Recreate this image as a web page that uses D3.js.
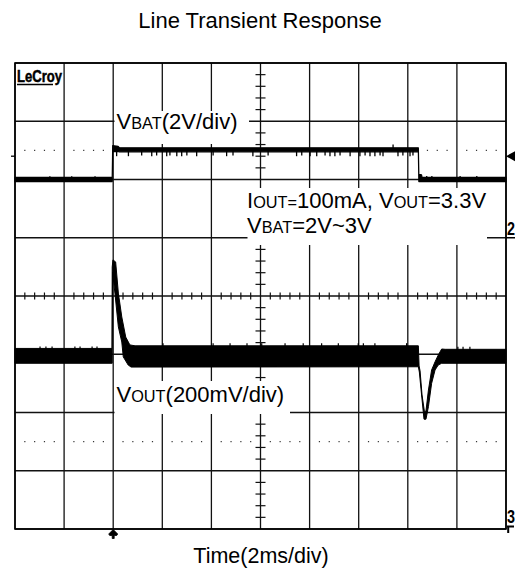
<!DOCTYPE html>
<html>
<head>
<meta charset="utf-8">
<script src="https://cdn.jsdelivr.net/npm/d3@7/dist/d3.min.js"></script>
<style>
  body { margin: 0; background: #fff; }
  svg { display: block; }
  text { font-family: "Liberation Sans", Arial, Helvetica, sans-serif; fill: #000; }
</style>
</head>
<body>
<svg id="scope" width="522" height="573"></svg>
<script>
// Line transient capture: VBAT stepped 2 V -> 3 V -> 2 V, VOUT held at 3.3 V (100 mA load)

// Screen: 10 time divisions of 2 ms, 8 vertical divisions
const timeDomain = [0, 20];          // ms
const timeDivs = d3.range(0, 21, 2); // graticule lines, ms
const vertDivs = d3.range(-4, 5);    // graticule lines, divisions
const subPerDiv = 5;

// VBAT, channel 2: 2 V/div, ground marker one division above centre
const vbatPerDiv = 2;
const vbatGroundDiv = 1;
const vbatTime = [0, 3.96, 3.98, 4.2, 4.25, 16.43, 16.45, 16.56, 16.58, 20];
const vbatHigh = [2.07, 2.07, 3.16, 3.14, 3.09, 3.09, 2.18, 2.16, 2.07, 2.07];
const vbatLow  = [1.93, 1.93, 2.96, 2.96, 2.95, 2.95, 1.93, 1.93, 1.93, 1.93];
// short glitches on the VBAT trace: time (ms) and tip (V)
const vbatGlitchTime = [1.42, 2.31, 3.26, 4.14, 4.62, 5.16, 5.57, 5.77, 6.18, 6.31, 6.59, 6.79, 7.0, 7.4,
  8.07, 8.62, 8.88, 9.69, 10.31, 11.47, 11.68, 12.02, 12.29, 12.63, 12.83, 13.03, 13.24, 13.65,
  14.05, 14.26, 14.46, 14.66, 14.87, 14.99, 15.4, 15.6, 15.8, 16.09, 16.21, 16.77, 16.98, 18.13, 18.81];
const vbatGlitchTip = [2.11, 2.11, 2.11, 2.8, 2.8, 2.82, 2.8, 2.82, 2.8, 2.82, 2.8, 2.8, 2.82, 2.8,
  2.82, 2.8, 2.82, 2.8, 2.82, 2.8, 2.82, 2.8, 2.8, 2.82, 2.8, 2.8, 2.82, 2.8,
  2.8, 2.82, 2.8, 2.8, 2.82, 2.8, 3.2, 2.8, 2.82, 2.8, 2.82, 2.12, 2.12, 2.12, 2.12];
const vbatTrigLevel = 2.8;   // V, trigger level marker

// VOUT, channel 3: 200 mV/div, AC deviation from 3.3 V, zero one division below centre
const voutPerDiv = 200;
const voutZeroDiv = -1;
// upper edge of the VOUT trace (ms, mV)
const voutHighTime = [0, 3.95, 3.96, 3.99, 4.10, 4.21, 4.35, 4.51, 4.68, 4.89, 16.43, 16.46, 16.50,
  16.58, 16.68, 16.74, 16.84, 16.97, 17.11, 17.24, 17.38, 17.52, 20];
const voutHigh = [20, 20, 300, 324, 317, 210, 128, 59, 32, 29, 29, -40, -57,
  -140, -198, -195, -123, -54, -26, -3, 18, 17, 17];
// lower edge of the VOUT trace (ms, mV)
const voutLowTime = [0, 3.95, 3.96, 3.975, 4.07, 4.21, 4.35, 4.41, 4.61, 4.73, 16.43, 16.47, 16.57,
  16.66, 16.74, 16.84, 16.97, 17.11, 17.24, 17.38, 20];
const voutLow = [-31, -31, -31, 282, 210, 94, 42, -9, -37, -44, -43, -61, -147,
  -223, -223, -180, -100, -54, -37, -31, -31];
// ripple spikes above the VOUT band: time (ms) and tip (mV)
const voutSpikeTime = [1.02, 1.26, 1.51, 2.44, 2.65, 3.14, 3.34, 6.03, 8.07, 8.76, 9.45, 10.05, 11.0,
  11.74, 12.49, 13.17, 13.98, 14.19, 14.66, 15.95, 18.04, 18.25, 18.53];
const voutSpikeTip = [27, 27, 27, 27, 27, 27, 27, 38, 38, 38, 38, 38, 38,
  38, 38, 38, 38, 38, 38, 38, 26, 26, 26];

const triggerTime = 4;   // ms

const svg = d3.select('#scope');
const x = d3.scaleLinear().domain(timeDomain).range([15, 506]);
const yDiv = d3.scaleLinear().domain([4, -4]).range([63, 529]);
const yVbat = v => yDiv(vbatGroundDiv + v / vbatPerDiv);
const yVout = mv => yDiv(voutZeroDiv + mv / voutPerDiv);
const msPerDiv = timeDivs[1] - timeDivs[0];
const ink = '#000';

// title and time base
svg.append('text').attr('x', 260).attr('y', 28).attr('text-anchor', 'middle')
  .attr('font-size', 22).text('Line Transient Response');
svg.append('text').attr('x', 261).attr('y', 563).attr('text-anchor', 'middle')
  .attr('font-size', 21.5).text('Time(2ms/div)');

const grid = svg.append('g').attr('stroke', '#111').attr('stroke-width', 1.3);
grid.selectAll('line.v').data(timeDivs).join('line').attr('class', 'v')
  .attr('x1', d => x(d)).attr('x2', d => x(d)).attr('y1', yDiv(4)).attr('y2', yDiv(-4));
grid.selectAll('line.h').data(vertDivs).join('line').attr('class', 'h')
  .attr('x1', x(0)).attr('x2', x(20)).attr('y1', d => yDiv(d)).attr('y2', d => yDiv(d));

// dotted reference rows at +2.5 and -2.5 div
const dotRows = [2.5, -2.5];
const dotXs = d3.range(0, 10).flatMap(k => d3.range(1, subPerDiv).map(j => (k + j / subPerDiv) * msPerDiv));
dotRows.forEach(r => {
  svg.append('g').selectAll('rect').data(dotXs).join('rect')
    .attr('x', d => x(d) - 0.6).attr('y', yDiv(r) - 0.6).attr('width', 1.2).attr('height', 1.2)
    .attr('fill', '#333');
});

// minor ticks on the centre axes
const tickY = d3.range(-4, 4).flatMap(k => d3.range(1, subPerDiv).map(j => k + j / subPerDiv));
const tickX = dotXs;
const axes = svg.append('g').attr('stroke', '#111').attr('stroke-width', 1.2);
axes.selectAll('line.ty').data(tickY).join('line').attr('class', 'ty')
  .attr('x1', x(10) - 5).attr('x2', x(10) + 5).attr('y1', d => yDiv(d)).attr('y2', d => yDiv(d));
axes.selectAll('line.tx').data(tickX).join('line').attr('class', 'tx')
  .attr('x1', d => x(d)).attr('x2', d => x(d)).attr('y1', yDiv(0) - 3.5).attr('y2', yDiv(0) + 3.5);

// frame
svg.append('rect').attr('x', x(0)).attr('y', yDiv(4)).attr('width', x(20) - x(0))
  .attr('height', yDiv(-4) - yDiv(4)).attr('fill', 'none').attr('stroke', '#000').attr('stroke-width', 1.6);

// LeCroy badge
svg.append('text').attr('x', 17).attr('y', 82).attr('font-size', 17).attr('font-weight', 'bold')
  .attr('stroke', '#000').attr('stroke-width', 0.5)
  .attr('textLength', 45).attr('lengthAdjust', 'spacingAndGlyphs').text('LeCroy');
svg.append('line').attr('x1', 17).attr('x2', 53).attr('y1', 84.5).attr('y2', 84.5)
  .attr('stroke', '#000').attr('stroke-width', 1.5);

// annotation labels sit on white panels that clear the graticule
const big = 22, small = 16.3;
function label(px, py, parts) {
  const t = svg.append('text').attr('x', px).attr('y', py);
  parts.forEach(([s, sm]) => t.append('tspan').attr('font-size', sm ? small : big).text(s));
  return t;
}
const panels = [
  [114.5, 111, 249, 144],
  [114.5, 381, 290, 414],
  [247.5, 188, 487, 245]
];
svg.append('g').selectAll('rect').data(panels).join('rect')
  .attr('x', d => d[0]).attr('y', d => d[1]).attr('width', d => d[2] - d[0]).attr('height', d => d[3] - d[1])
  .attr('fill', '#fff');
label(116.5, 128.5, [['V'], ['BAT', 1], ['(2V/div)']]);
label(116.5, 401.7, [['V'], ['OUT', 1], ['(200mV/div)']]);
label(247, 208.3, [['I'], ['OUT=', 1], ['100mA, V'], ['OUT', 1], ['=3.3V']]);
label(247, 233.3, [['V'], ['BAT', 1], ['=2V~3V']]);

// VBAT trace envelope
const env = (time, hi, lo, fy) => {
  const up = time.map((t, i) => [x(t), fy(hi[i])]);
  const dn = time.map((t, i) => [x(t), fy(lo[i])]).reverse();
  return d3.line()(up.concat(dn)) + 'Z';
};
svg.append('path').attr('d', env(vbatTime, vbatHigh, vbatLow, yVbat))
  .attr('fill', ink).attr('stroke', ink).attr('stroke-width', 1.2).attr('stroke-linejoin', 'round');
const vbatMid = d3.scaleLinear().domain(vbatTime).range(vbatTime.map((t, i) => (vbatHigh[i] + vbatLow[i]) / 2));
svg.append('g').attr('stroke', ink).attr('stroke-width', 1.3).selectAll('line')
  .data(vbatGlitchTime).join('line')
  .attr('x1', d => x(d)).attr('x2', d => x(d))
  .attr('y1', d => yVbat(vbatMid(d))).attr('y2', (d, i) => yVbat(vbatGlitchTip[i]));

// VOUT trace envelope
const voutUp = voutHighTime.map((t, i) => [x(t), yVout(voutHigh[i])]);
const voutDn = voutLowTime.map((t, i) => [x(t), yVout(voutLow[i])]).reverse();
svg.append('path').attr('d', d3.line()(voutUp.concat(voutDn)) + 'Z')
  .attr('fill', ink).attr('stroke', ink).attr('stroke-width', 1).attr('stroke-linejoin', 'round');
svg.append('g').attr('stroke', ink).attr('stroke-width', 1.2).selectAll('line')
  .data(voutSpikeTime).join('line')
  .attr('x1', d => x(d)).attr('x2', d => x(d))
  .attr('y1', yVout(0)).attr('y2', (d, i) => yVout(voutSpikeTip[i]));

// channel and trigger markers
const mk = svg.append('g').attr('fill', '#000');
mk.append('path').attr('d', `M${x(20)},${yVbat(vbatTrigLevel)}l9,-5v10z`);
mk.append('line').attr('x1', 11).attr('x2', 15).attr('y1', yVbat(vbatTrigLevel)).attr('y2', yVbat(vbatTrigLevel))
  .attr('stroke', '#000').attr('stroke-width', 1.3);
mk.append('path').attr('d', `M${x(triggerTime)},${yDiv(-4) + 0.5}l4.5,4.5l-1,1.5l-2.5,0l0,3l-2,0l0,-3l-2.5,0l-1,-1.5z`)
  .attr('stroke', '#000').attr('stroke-width', 0.8);
mk.append('text').attr('x', 507).attr('y', 234.5).attr('font-size', 19).attr('font-weight', 'bold')
  .attr('textLength', 8).attr('lengthAdjust', 'spacingAndGlyphs').text('2');
mk.append('line').attr('x1', x(20)).attr('x2', 515).attr('y1', yDiv(vbatGroundDiv)).attr('y2', yDiv(vbatGroundDiv))
  .attr('stroke', '#000').attr('stroke-width', 1.5);
mk.append('text').attr('x', 507).attr('y', 522.5).attr('font-size', 19).attr('font-weight', 'bold')
  .attr('textLength', 8).attr('lengthAdjust', 'spacingAndGlyphs').text('3');
mk.append('path').attr('d', 'M507,526.5h7M508.2,526.5v6.5').attr('stroke', '#000').attr('stroke-width', 2).attr('fill', 'none');
</script>
</body>
</html>
